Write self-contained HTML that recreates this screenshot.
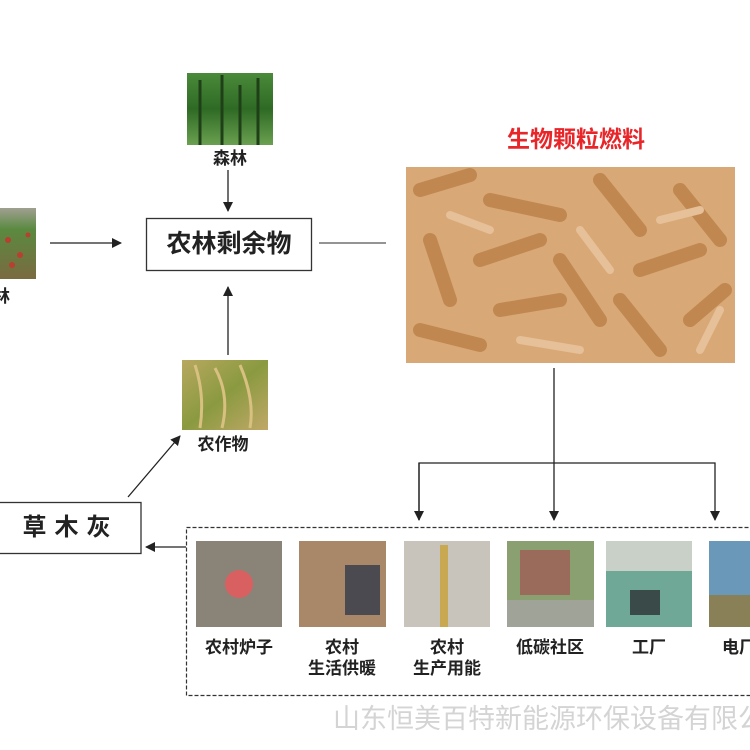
<!DOCTYPE html>
<html><head><meta charset="utf-8"><style>
html,body{margin:0;padding:0;background:#fff;width:750px;height:750px;overflow:hidden;font-family:"Liberation Sans","Noto Sans CJK SC",sans-serif;}
#w{position:relative;width:750px;height:750px;overflow:hidden}
.a{position:absolute}
.lbl{position:absolute;font-weight:bold;color:#222;font-size:17px;text-align:center;line-height:21px;white-space:nowrap}
</style></head><body><div id="w">
<svg class="a" style="left:0;top:0" width="750" height="750">
<defs>
<linearGradient id="forest" x1="0" y1="0" x2="0" y2="1"><stop offset="0" stop-color="#4a8a3a"/><stop offset="0.5" stop-color="#2f6a25"/><stop offset="1" stop-color="#6aa050"/></linearGradient>
<linearGradient id="crop" x1="0" y1="0" x2="1" y2="1"><stop offset="0" stop-color="#b8a860"/><stop offset="0.5" stop-color="#8a9a40"/><stop offset="1" stop-color="#c0a868"/></linearGradient>
<linearGradient id="bush" x1="0" y1="0" x2="0" y2="1"><stop offset="0" stop-color="#a0a090"/><stop offset="0.3" stop-color="#5a8a40"/><stop offset="1" stop-color="#7a6a40"/></linearGradient>
<marker id="ah" markerWidth="10" markerHeight="10" refX="9" refY="5" orient="auto" markerUnits="userSpaceOnUse"><path d="M0,0 L10,5 L0,10 Z" fill="#222"/></marker>
</defs>
<rect x="187" y="73" width="86" height="72" fill="url(#forest)"/>
<g stroke="#1f3f18" stroke-width="3"><line x1="200" y1="80" x2="200" y2="145"/><line x1="222" y1="75" x2="222" y2="145"/><line x1="240" y1="85" x2="240" y2="145"/><line x1="258" y1="78" x2="258" y2="145"/></g>
<rect x="0" y="208" width="36" height="71" fill="url(#bush)"/>
<g fill="#b84030"><circle cx="8" cy="240" r="3"/><circle cx="20" cy="255" r="3"/><circle cx="28" cy="235" r="2.5"/><circle cx="12" cy="265" r="3"/></g>
<rect x="182" y="360" width="86" height="70" fill="url(#crop)"/>
<g stroke="#d8c080" stroke-width="3" fill="none"><path d="M195,365 Q205,395 200,428"/><path d="M215,368 Q230,395 222,428"/><path d="M240,365 Q255,400 250,428"/></g>
<rect x="406" y="167" width="329" height="196" fill="#d9a877"/>
<g stroke="#c08850" stroke-width="14" stroke-linecap="round">
<line x1="420" y1="190" x2="470" y2="175"/><line x1="490" y1="200" x2="560" y2="215"/><line x1="600" y1="180" x2="640" y2="230"/><line x1="680" y1="190" x2="720" y2="240"/>
<line x1="430" y1="240" x2="450" y2="300"/><line x1="480" y1="260" x2="540" y2="240"/><line x1="560" y1="260" x2="600" y2="320"/><line x1="640" y1="270" x2="700" y2="250"/>
<line x1="420" y1="330" x2="480" y2="345"/><line x1="500" y1="310" x2="560" y2="300"/><line x1="620" y1="300" x2="660" y2="350"/><line x1="690" y1="320" x2="725" y2="290"/>
</g>
<g stroke="#e6c098" stroke-width="8" stroke-linecap="round">
<line x1="450" y1="215" x2="490" y2="230"/><line x1="580" y1="230" x2="610" y2="270"/><line x1="660" y1="220" x2="700" y2="210"/><line x1="520" y1="340" x2="580" y2="350"/><line x1="700" y1="350" x2="720" y2="310"/>
</g>
<rect x="196" y="541" width="86" height="86" fill="#8a8478"/><circle cx="239" cy="584" r="14" fill="#d86060"/>
<rect x="299" y="541" width="87" height="86" fill="#a88868"/><rect x="345" y="565" width="35" height="50" fill="#4a4a50"/>
<rect x="404" y="541" width="86" height="86" fill="#c8c4bc"/><rect x="440" y="545" width="8" height="82" fill="#c8a850"/>
<rect x="507" y="541" width="87" height="86" fill="#8aa070"/><rect x="520" y="550" width="50" height="45" fill="#9a6a5a"/><rect x="507" y="600" width="87" height="27" fill="#a0a498"/>
<rect x="606" y="541" width="86" height="86" fill="#70a898"/><rect x="606" y="541" width="86" height="30" fill="#c8d0c8"/><rect x="630" y="590" width="30" height="25" fill="#3a4a48"/>
<rect x="709" y="541" width="41" height="86" fill="#6a98b8"/><rect x="709" y="595" width="41" height="32" fill="#8a8058"/>
<g stroke="#222" stroke-width="1.3" fill="none">
<line x1="228" y1="170" x2="228" y2="211" marker-end="url(#ah)"/>
<line x1="50" y1="243" x2="121" y2="243" marker-end="url(#ah)"/>
<line x1="319" y1="243" x2="386" y2="243" stroke="#555"/>
<line x1="228" y1="355" x2="228" y2="287" marker-end="url(#ah)"/>
<line x1="128" y1="497" x2="180" y2="436" marker-end="url(#ah)"/>
<line x1="554" y1="368" x2="554" y2="520" marker-end="url(#ah)"/>
<polyline points="419,520 419,463 715,463 715,520" marker-end="url(#ah)"/>
<line x1="419" y1="463" x2="419" y2="520" marker-end="url(#ah)"/>
<line x1="186" y1="547" x2="146" y2="547" marker-end="url(#ah)"/>
</g>
<rect x="186.5" y="527.5" width="570" height="168" fill="none" stroke="#333" stroke-width="1.2" stroke-dasharray="4,2"/>
<rect x="146.5" y="218.5" width="165" height="52" fill="none" stroke="#333" stroke-width="1.3"/>
<rect x="-2" y="502.5" width="143" height="51" fill="none" stroke="#333" stroke-width="1.3"/>
</svg>
<div class="lbl" style="left:187px;top:148px;width:86px">森林</div>
<div class="lbl" style="left:-7px;top:286px">林</div>
<div class="lbl" style="left:146px;top:230px;width:166px;font-size:25px;line-height:28px">农林剩余物</div>
<div class="lbl" style="left:180px;top:434px;width:86px">农作物</div>
<div class="lbl" style="left:466px;top:126px;width:220px;font-size:23px;line-height:27px;color:#e8262a">生物颗粒燃料</div>
<div class="lbl" style="left:0;top:514px;width:141px;font-size:24px;line-height:28px;letter-spacing:8px">草木灰</div>
<div class="lbl" style="left:190px;top:637px;width:98px">农村炉子</div>
<div class="lbl" style="left:292px;top:637px;width:100px">农村<br>生活供暖</div>
<div class="lbl" style="left:397px;top:637px;width:100px">农村<br>生产用能</div>
<div class="lbl" style="left:500px;top:637px;width:100px">低碳社区</div>
<div class="lbl" style="left:600px;top:637px;width:98px">工厂</div>
<div class="lbl" style="left:722px;top:637px">电厂</div>
<div class="a" style="left:333px;top:703px;font-size:27px;color:#d4d4d4;white-space:nowrap;line-height:32px">山东恒美百特新能源环保设备有限公司</div>
</div></body></html>
